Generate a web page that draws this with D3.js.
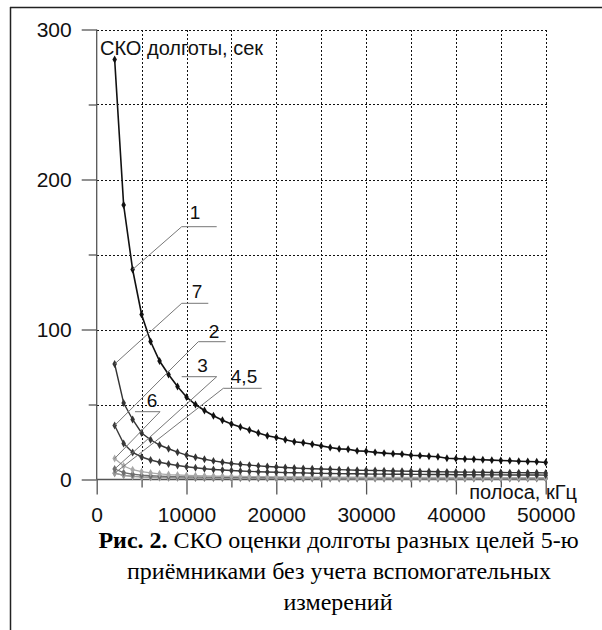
<!DOCTYPE html>
<html>
<head>
<meta charset="utf-8">
<script src="https://cdn.jsdelivr.net/npm/d3@7"></script>
<style>
  body { margin: 0; background: #fff; }
  svg { display: block; }
  .sans { font-family: "Liberation Sans", Arial, sans-serif; }
  .serif { font-family: "Liberation Serif", "Times New Roman", serif; }
</style>
</head>
<body>
<div id="chart"></div>
<script>
// bandwidth, kHz (x values of every curve)
let bandwidth = [2000, 3000, 4000, 5000, 6000, 7000, 8000, 9000, 10000, 11000,
	12000, 13000, 14000, 15000, 16000, 17000, 18000, 19000, 20000, 21000,
	22000, 23000, 24000, 25000, 26000, 27000, 28000, 29000, 30000, 31000,
	32000, 33000, 34000, 35000, 36000, 37000, 38000, 39000, 40000, 41000,
	42000, 43000, 44000, 45000, 46000, 47000, 48000, 49000, 50000];

// СКО долготы, сек - one array per target
let target1 = [280, 183, 140, 110, 92, 79, 70, 62, 55, 50,
	46, 42.5, 39.5, 37, 35, 33, 31, 29.2, 28, 26.5,
	25.2, 24.5, 23.5, 22.4, 21.3, 20.4, 20.2, 19.1, 18.8, 18.1,
	17.6, 17.2, 16.9, 16.2, 15.9, 15.5, 15.2, 14.2, 13.9, 13.7,
	13.5, 13.2, 12.9, 12.7, 12.5, 12.2, 12.0, 11.8, 11.3];
let target7 = [77, 51, 40, 31, 26.5, 23, 20.5, 18.2, 16.3, 14.8,
	13.5, 12.4, 11.5, 10.7, 10.1, 9.6, 9.1, 8.7, 8.3, 8.0,
	7.7, 7.4, 7.2, 7.0, 6.8, 6.6, 6.4, 6.2, 6.1, 6.0,
	5.9, 5.7, 5.6, 5.5, 5.4, 5.3, 5.2, 5.1, 5.0, 4.9,
	4.9, 4.8, 4.7, 4.7, 4.6, 4.6, 4.5, 4.5, 4.4];
let target2 = [36, 24, 18, 15, 13, 11.5, 10.3, 9.3, 8.5, 7.8,
	7.2, 6.7, 6.3, 6.0, 5.7, 5.4, 5.2, 5.0, 4.8, 4.6,
	4.5, 4.4, 4.2, 4.1, 4.0, 3.9, 3.8, 3.8, 3.7, 3.6,
	3.6, 3.5, 3.5, 3.4, 3.4, 3.3, 3.3, 3.3, 3.2, 3.2,
	3.2, 3.1, 3.1, 3.1, 3.0, 3.0, 3.0, 3.0, 2.9];
let target6 = [14, 9, 6.5, 5.2, 4.4, 3.8, 3.3, 3.0, 2.7, 2.5,
	2.4, 2.3, 2.2, 2.1, 2.0, 1.95, 1.9, 1.85, 1.8, 1.75,
	1.7, 1.68, 1.65, 1.62, 1.6, 1.57, 1.55, 1.52, 1.5, 1.48,
	1.46, 1.45, 1.43, 1.42, 1.4, 1.39, 1.38, 1.37, 1.35, 1.34,
	1.33, 1.32, 1.31, 1.3, 1.29, 1.28, 1.27, 1.26, 1.25];
let target3 = [7, 4.6, 3.5, 2.9, 2.5, 2.2, 2.0, 1.9, 1.8, 1.7,
	1.6, 1.55, 1.5, 1.45, 1.4, 1.37, 1.34, 1.31, 1.28, 1.25,
	1.23, 1.21, 1.19, 1.17, 1.15, 1.14, 1.13, 1.12, 1.11, 1.1,
	1.09, 1.08, 1.07, 1.07, 1.06, 1.06, 1.05, 1.05, 1.04, 1.04,
	1.03, 1.03, 1.02, 1.02, 1.01, 1.01, 1.0, 1.0, 1.0];
let target4 = [4.2, 2.8, 2.1, 1.7, 1.5, 1.3, 1.2, 1.1, 1.0, 0.95,
	0.9, 0.87, 0.84, 0.81, 0.79, 0.77, 0.75, 0.74, 0.73, 0.72,
	0.71, 0.7, 0.69, 0.68, 0.68, 0.67, 0.67, 0.66, 0.66, 0.65,
	0.65, 0.64, 0.64, 0.64, 0.63, 0.63, 0.63, 0.62, 0.62, 0.62,
	0.62, 0.61, 0.61, 0.61, 0.61, 0.6, 0.6, 0.6, 0.6];
let target5 = [4.2, 2.8, 2.1, 1.7, 1.5, 1.3, 1.2, 1.1, 1.0, 0.95,
	0.9, 0.87, 0.84, 0.81, 0.79, 0.77, 0.75, 0.74, 0.73, 0.72,
	0.71, 0.7, 0.69, 0.68, 0.68, 0.67, 0.67, 0.66, 0.66, 0.65,
	0.65, 0.64, 0.64, 0.64, 0.63, 0.63, 0.63, 0.62, 0.62, 0.62,
	0.62, 0.61, 0.61, 0.61, 0.61, 0.6, 0.6, 0.6, 0.6];

// tick labels
let xTicks = [0, 10000, 20000, 30000, 40000, 50000];
let yTicks = [0, 100, 200, 300];

let width = 602, height = 630;

// drawing order: light ones first, black on top
let curves = [
	{ name: "4", values: target4, color: "#9a9a9a", width: 1.3 },
	{ name: "5", values: target5, color: "#9a9a9a", width: 1.3 },
	{ name: "3", values: target3, color: "#6e6e6e", width: 1.3 },
	{ name: "6", values: target6, color: "#a8a8a8", width: 1.3 },
	{ name: "2", values: target2, color: "#3a3a3a", width: 1.4 },
	{ name: "7", values: target7, color: "#333333", width: 1.4 },
	{ name: "1", values: target1, color: "#111111", width: 1.6 }
];

let svg = d3.select("#chart")
	.append("svg")
	.attr("width", width)
	.attr("height", height);

// page frame (table cell border)
svg.append("line").attr("x1", 10).attr("x2", width).attr("y1", 7.5).attr("y2", 7.5)
	.attr("stroke", "#222").attr("stroke-width", 1.5);
svg.append("line").attr("x1", 10.5).attr("x2", 10.5).attr("y1", 7).attr("y2", height)
	.attr("stroke", "#222").attr("stroke-width", 1.5);

let x = d3.scaleLinear().domain([0, 50000]).range([96.7, 545.7]);
let y = d3.scaleLinear().domain([0, 300]).range([479.5, 29.5]);

// dotted grid, snapped to whole pixels so the dots stay crisp
let px = v => Math.round(v) + 0.5;
let grid = svg.append("g").attr("stroke", "#111").attr("stroke-width", 1)
	.attr("stroke-dasharray", "2,2")
	.attr("shape-rendering", "crispEdges");
grid.selectAll(".gx")
	.data(d3.range(5000, 50001, 5000))
	.enter()
	.append("line")
	.attr("x1", d => px(x(d))).attr("x2", d => px(x(d)))
	.attr("y1", Math.round(y(300))).attr("y2", Math.round(y(0)));
grid.selectAll(".gy")
	.data(d3.range(50, 301, 50))
	.enter()
	.append("line")
	.attr("y1", d => px(y(d))).attr("y2", d => px(y(d)))
	.attr("x1", Math.round(x(0))).attr("x2", Math.round(x(50000)) + 1);

// axes
let axisColor = "#555";
let yMinor = svg.append("g")
	.attr("transform", "translate(" + x(0) + ",0)")
	.call(d3.axisLeft(y).tickValues([50, 150, 250]).tickSize(8).tickSizeOuter(0).tickFormat(""));
let yMajor = svg.append("g")
	.attr("transform", "translate(" + x(0) + ",0)")
	.call(d3.axisLeft(y).tickValues(yTicks).tickSize(15).tickPadding(10).tickSizeOuter(0));
let xMinor = svg.append("g")
	.attr("transform", "translate(0," + y(0) + ")")
	.call(d3.axisBottom(x).tickValues([5000, 15000, 25000, 35000, 45000]).tickSize(8).tickSizeOuter(0).tickFormat(""));
let xMajor = svg.append("g")
	.attr("transform", "translate(0," + y(0) + ")")
	.call(d3.axisBottom(x).tickValues(xTicks).tickSize(15).tickPadding(13).tickSizeOuter(0).tickFormat(d3.format("d")));

[yMinor, yMajor, xMinor, xMajor].forEach(g => {
	g.select(".domain").remove();
	g.attr("font-family", null).attr("font-size", null);
	g.selectAll("line").attr("stroke", axisColor).attr("stroke-width", 1.3);
	g.selectAll("text")
		.attr("class", "sans")
		.style("font-size", "21px")
		.attr("fill", "#111");
});

svg.append("line").attr("x1", x(0)).attr("x2", x(0)).attr("y1", y(300)).attr("y2", y(0))
	.attr("stroke", axisColor).attr("stroke-width", 1.3);
svg.append("line").attr("x1", x(0)).attr("x2", x(50000)).attr("y1", y(0)).attr("y2", y(0))
	.attr("stroke", axisColor).attr("stroke-width", 1.3);

// axis titles
svg.append("text").attr("class", "sans").attr("x", 100).attr("y", 55)
	.style("font-size", "20px")
	.attr("fill", "#111").text("СКО долготы, сек");
svg.append("text").attr("class", "sans").attr("x", 577).attr("y", 499).attr("text-anchor", "end")
	.style("font-size", "20px")
	.attr("fill", "#111").text("полоса, кГц");

// curves
let line = d3.line().x(d => x(d[0])).y(d => y(d[1]));
let diamond = d3.symbol().type(d3.symbolDiamond).size(18);

curves.forEach(c => {
	let pts = bandwidth.map((b, i) => [b, c.values[i]]);
	let g = svg.append("g");
	g.append("path")
		.datum(pts)
		.attr("fill", "none")
		.attr("stroke", c.color)
		.attr("stroke-width", c.width)
		.attr("d", line);
	g.selectAll("path.m")
		.data(pts)
		.enter()
		.append("path")
		.attr("class", "m")
		.attr("transform", d => "translate(" + x(d[0]) + "," + y(d[1]) + ")")
		.attr("fill", c.color)
		.attr("d", diamond);
});

// curve labels with underline and leader to a point of the curve
let labels = [
	{ text: "1", tx: 195, ty: 219, u0: 181.7, u1: 216.7, uy: 226.7, from: 181.7, series: target1, idx: 2 },
	{ text: "7", tx: 197, ty: 298, u0: 181.7, u1: 208.3, uy: 303.3, from: 181.7, series: target7, idx: 0 },
	{ text: "2", tx: 214, ty: 338, u0: 198.3, u1: 225.7, uy: 341.7, from: 198.3, series: target2, idx: 0 },
	{ text: "3", tx: 202.5, ty: 371.5, u0: 181.7, u1: 216.7, uy: 376.7, from: 216.7, series: target3, idx: 0 },
	{ text: "4,5", tx: 244, ty: 383, u0: 223.3, u1: 261.7, uy: 388.3, from: 223.3, series: target4, idx: 0 },
	{ text: "6", tx: 152, ty: 407, u0: 135, u1: 160, uy: 411.7, from: 160, series: target6, idx: 0 }
];

let lab = svg.append("g");
labels.forEach(l => {
	lab.append("line").attr("x1", l.u0).attr("x2", l.u1).attr("y1", l.uy).attr("y2", l.uy)
		.attr("stroke", "#777").attr("stroke-width", 1);
	lab.append("line")
		.attr("x1", l.from).attr("y1", l.uy)
		.attr("x2", x(bandwidth[l.idx])).attr("y2", y(l.series[l.idx]))
		.attr("stroke", "#777").attr("stroke-width", 1);
	lab.append("text").attr("class", "sans").attr("x", l.tx).attr("y", l.ty).attr("text-anchor", "middle")
		.style("font-size", "19px")
		.attr("fill", "#111").text(l.text);
});

// caption
let cap = svg.append("g")
	.attr("class", "serif")
	.style("font-size", "24px")
	.attr("fill", "#000")
	.attr("text-anchor", "middle");
let c1 = cap.append("text").attr("x", 338.5).attr("y", 548);
c1.append("tspan").style("font-weight", "bold").text("Рис. 2.");
c1.append("tspan").text(" СКО оценки долготы разных целей 5-ю");
cap.append("text").attr("x", 339).attr("y", 579).text("приёмниками без учета вспомогательных");
cap.append("text").attr("x", 338).attr("y", 610).text("измерений");
</script>
</body>
</html>
